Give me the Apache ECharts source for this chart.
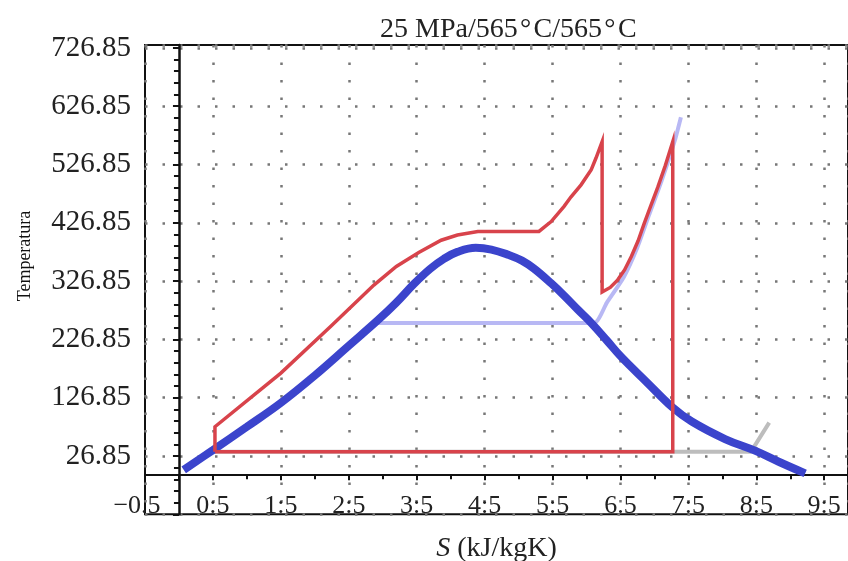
<!DOCTYPE html>
<html>
<head>
    <meta charset="UTF-8">
    <title>T-s 25 MPa</title>
    <script src="https://fastly.jsdelivr.net/npm/echarts@6/dist/echarts.min.js"></script>
    <style>
        html, body { margin: 0; padding: 0; background: #fff; }
        #chart { width: 848px; height: 561px; }
    </style>
</head>
<body>
<div id="chart"></div>
<script>
// entropy s (kJ/kgK), temperature T (°C)
var domeS   = [0.07, 0.5, 1.0, 1.5, 2.0, 2.5, 2.93, 3.2, 3.46, 3.7, 3.9, 4.1, 4.37, 4.6, 4.85, 5.05, 5.23, 5.48, 5.67, 5.88, 6.07, 6.3, 6.51, 6.9, 7.26, 7.55, 8.04, 8.48, 8.83, 9.22];
var domeT   = [3, 37, 77, 118, 165, 216, 260, 290, 322, 348, 365, 377, 384, 381, 372, 362, 348, 323, 302, 277, 255, 225, 197, 152, 111, 86, 56, 36, 17, -3];

var cycleS  = [0.53, 0.53, 1.5, 2.24, 2.87, 3.2, 3.53, 3.86, 4.1, 4.4, 5.30, 5.48, 5.67, 5.77, 5.92, 6.07, 6.14, 6.23, 6.23, 6.35, 6.46, 6.56, 6.66, 6.76, 6.85, 6.95, 7.05, 7.16, 7.27, 7.27, 0.53];
var cycleT  = [34, 77, 169, 250, 320, 352, 376, 397, 406, 412, 412, 429, 455, 471, 492, 518, 538, 566, 308, 316, 329, 346, 369, 396, 426, 457, 488, 525, 566, 34, 34];

var isobarS = [2.93, 6.11, 6.3, 6.55, 6.75, 6.92, 7.1, 7.3, 7.39];
var isobarT = [255, 255, 290, 334, 385, 440, 497, 568, 608];

var condS   = [0.53, 8.42, 8.69];
var condT   = [34, 34, 84];

var xTickLabels = ['\u22120.5', '0:5', '1:5', '2:5', '3:5', '4:5', '5:5', '6.5', '7:5', '8:5', '9:5'];
var yTickK      = [300, 400, 500, 600, 700, 800, 900, 1000];
var yTickLabels = ['26.85', '126.85', '226.85', '326.85', '426.85', '526.85', '626.85', '726.85'];

function pairs(s, t) {
    return s.map(function (v, i) { return [v, t[i] + 273.15]; });
}

var serif = 'Liberation Serif';
var chart = echarts.init(document.getElementById('chart'), null, {renderer: 'canvas'});

var option = {
    animation: false,
    backgroundColor: '#fff',
    title: {
        text: '25 MPa/565\u200a°\u200aC/565\u200a°\u200aC',
        left: 375,
        top: 11,
        textStyle: {fontFamily: serif, fontSize: 28, fontWeight: 'normal', color: '#222'}
    },
    grid: {
        left: 145, right: 0, top: 45, bottom: 46.7,
        containLabel: false,
        outerBoundsMode: 'none',
        show: true, borderColor: '#111', borderWidth: 2, backgroundColor: 'transparent'
    },
    graphic: [{
        type: 'text',
        x: 25, y: 256,
        rotation: Math.PI / 2,
        style: {
            text: 'Temperatura',
            fontSize: 18,
            fontFamily: serif,
            fill: '#111',
            align: 'center',
            verticalAlign: 'middle'
        }
    }],
    xAxis: {
        type: 'value',
        min: -0.5,
        max: 9.85,
        interval: 1,
        position: 'bottom',
        offset: -40,
        axisLine: {onZero: false, lineStyle: {color: '#111', width: 2}},
        axisTick: {show: true, length: 6, lineStyle: {color: '#111', width: 2}},
        minorTick: {show: true, splitNumber: 2, length: 5, lineStyle: {color: '#111', width: 2}},
        axisLabel: {
            margin: 19,
            showMaxLabel: false,
            fontFamily: serif, fontSize: 26, color: '#222',
            rich: {
                first: {fontFamily: serif, fontSize: 26, color: '#222', padding: [0, 16, 0, 0]}
            },
            formatter: function (v) {
                var i = Math.round(v + 0.5);
                if (xTickLabels[i] === undefined || Math.abs(v + 0.5 - i) > 1e-6) return '';
                return i === 0 ? '{first|' + xTickLabels[i] + '}' : xTickLabels[i];
            }
        },
        splitLine: {show: true, lineStyle: {color: '#777', width: 2.5, type: [2.5, 15]}},
        name: '{i|S} (kJ/kgK)',
        nameLocation: 'middle',
        nameGap: 60,
        nameTextStyle: {
            fontFamily: serif, fontSize: 28, color: '#222',
            rich: {i: {fontFamily: serif, fontSize: 28, fontStyle: 'italic', color: '#222'}}
        }
    },
    yAxis: {
        type: 'value',
        min: 200,
        max: 1005,
        interval: 100,
        axisLine: {onZero: true, lineStyle: {color: '#111', width: 2.5}},
        axisTick: {show: true, length: 6, lineStyle: {color: '#111', width: 2}},
        minorTick: {show: true, splitNumber: 5, length: 5, lineStyle: {color: '#111', width: 2}},
        axisLabel: {
            margin: 14,
            showMinLabel: false,
            showMaxLabel: false,
            fontFamily: serif, fontSize: 29, color: '#222',
            formatter: function (v) {
                var i = yTickK.indexOf(Math.round(v));
                return i >= 0 ? yTickLabels[i] : '';
            }
        },
        splitLine: {show: true, lineStyle: {color: '#777', width: 2.5, type: [2.5, 15]}}
    },
    series: [
        {
            type: 'line', name: 'isobar', data: pairs(isobarS, isobarT),
            symbol: 'none', z: 2, smooth: 0.2,
            lineStyle: {color: 'rgba(160,160,240,0.75)', width: 4}
        },
        {
            type: 'line', name: 'condenser', data: pairs(condS, condT),
            symbol: 'none', z: 2,
            lineStyle: {color: '#bdbdbd', width: 4}
        },
        {
            type: 'line', name: 'dome', data: pairs(domeS, domeT),
            symbol: 'none', z: 3, smooth: 0.4,
            lineStyle: {color: '#3b44cc', width: 8}
        },
        {
            type: 'line', name: 'cycle', data: pairs(cycleS, cycleT),
            symbol: 'none', z: 4,
            lineStyle: {color: '#d8434b', width: 3.5, join: 'miter'}
        }
    ]
};

chart.setOption(option);
</script>
</body>
</html>
